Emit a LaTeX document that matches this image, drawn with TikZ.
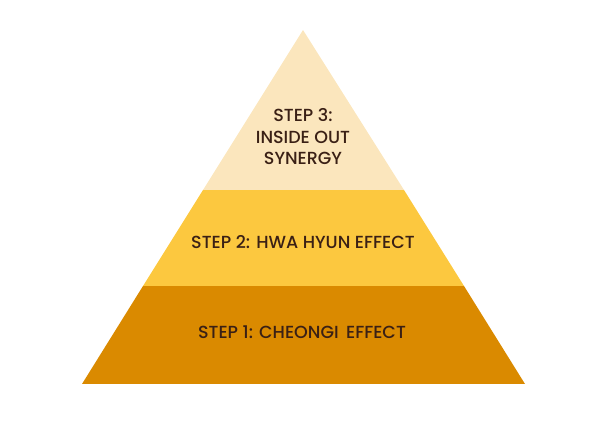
\documentclass[tikz,border=0pt]{standalone}
\usepackage{fontspec}
\setmainfont{Poppins}
\newfontfamily\pmed{Poppins Medium}
\definecolor{topc}{HTML}{FBE6BD}
\definecolor{midc}{HTML}{FCC83F}
\definecolor{botc}{HTML}{DA8A00}
\definecolor{txtc}{HTML}{3A2015}
\tikzset{
  layertext/.style={text=txtc, font=\pmed\fontsize{17.5}{21.5}\selectfont, align=center, inner sep=0pt}
}
\begin{document}
\begin{tikzpicture}[x=1pt,y=-1pt]
\useasboundingbox (0,0) rectangle (600,435);
\coordinate (apex) at (303,30);
\coordinate (l1) at (203,190);
\coordinate (r1) at (404,190);
\coordinate (l2) at (143,286);
\coordinate (r2) at (464,286);
\coordinate (l3) at (82,384);
\coordinate (r3) at (525,384);
\fill[botc] (l2) -- (r2) -- (r3) -- (l3) -- cycle;
\fill[midc] (l1) -- (r1) -- (r2) -- (l2) -- cycle;
\fill[topc] (apex) -- (r1) -- (l1) -- cycle;
\node[layertext] (s3) at (303,137) {STEP 3:\\INSIDE OUT\\SYNERGY};
\node[layertext] (s2) at (303,242) {STEP 2: HWA HYUN EFFECT};
\node[layertext] (s1) at (302,332) {STEP 1: CHEONGI\, EFFECT};
\end{tikzpicture}
\end{document}
